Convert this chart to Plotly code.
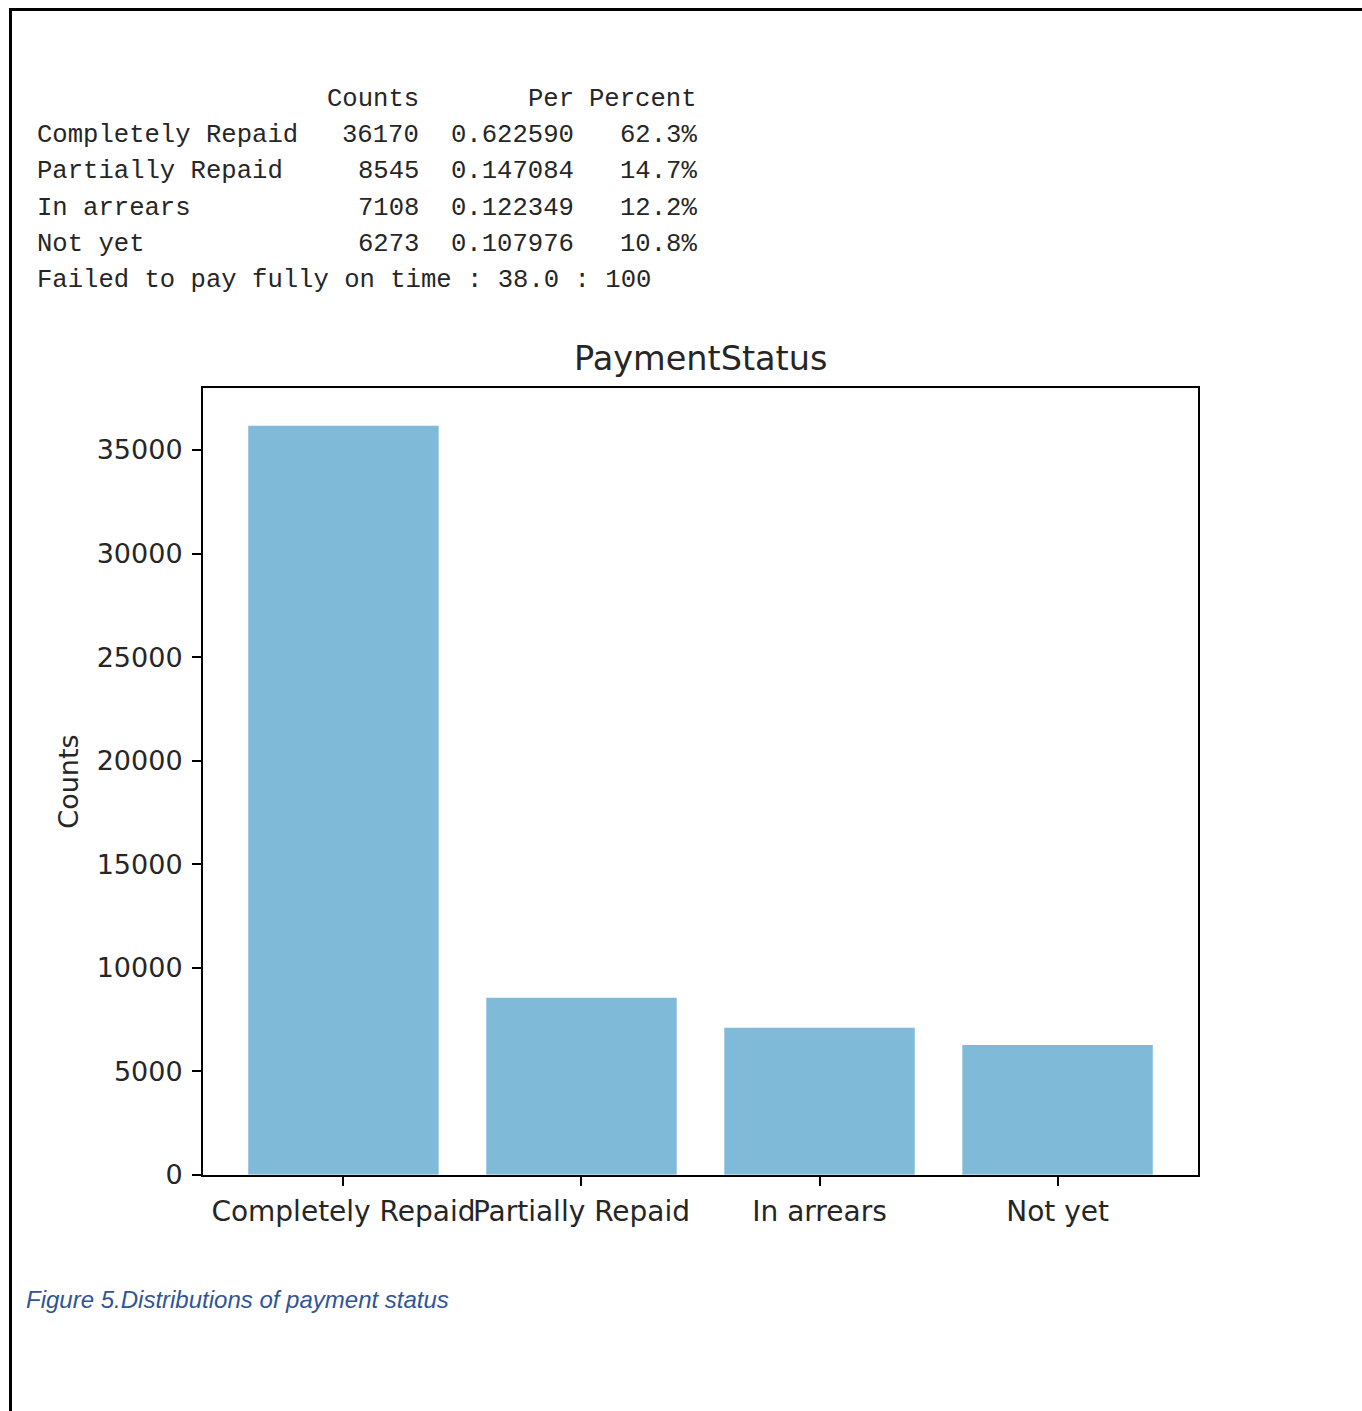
import plotly.graph_objects as go

# Payment status counts
categories = ["Completely Repaid", "Partially Repaid", "In arrears", "Not yet"]
counts = [36170, 8545, 7108, 6273]
y_ticks = [0, 5000, 10000, 15000, 20000, 25000, 30000, 35000]
summary_line = "Failed to pay fully on time : 38.0 : 100"

total = sum(counts)
shares = [c / total for c in counts]

W, H = 1362, 1427
H_VIEW = 1411


def px_x(x):
    return x / W


def px_y(y):
    return 1 - y / H_VIEW


BAR_COLOR = "#7fbad9"
AXIS_FONT = "DejaVu Sans"
MONO_FONT = "Liberation Mono"
TEXT_COLOR = "#262626"

fig = go.Figure()
fig.add_trace(go.Bar(
    x=list(range(len(categories))),
    y=counts,
    width=0.8,
    marker=dict(color=BAR_COLOR, line=dict(width=0)),
    hoverinfo="x+y",
))

fig.update_layout(
    width=W,
    height=H,
    margin=dict(l=0, r=0, t=0, b=0),
    paper_bgcolor="white",
    plot_bgcolor="white",
    showlegend=False,
    xaxis=dict(
        domain=[px_x(203), px_x(1198)],
        range=[-0.59, 3.59],
        tickmode="array",
        tickvals=list(range(len(categories))),
        ticktext=categories,
        tickangle=0,
        ticks="outside",
        ticklen=9,
        tickwidth=2,
        tickcolor="black",
        ticklabelstandoff=2,
        showline=True,
        linecolor="black",
        linewidth=2,
        mirror=True,
        showgrid=False,
        zeroline=False,
        tickfont=dict(family=AXIS_FONT, size=28, color=TEXT_COLOR),
    ),
    yaxis=dict(
        domain=[px_y(1174), px_y(388)],
        range=[0, 37978.5],
        tickmode="array",
        tickvals=y_ticks,
        ticktext=[str(v) for v in y_ticks],
        ticks="outside",
        ticklen=9,
        tickwidth=2,
        tickcolor="black",
        ticklabelstandoff=4,
        showline=True,
        linecolor="black",
        linewidth=2,
        mirror=True,
        showgrid=False,
        zeroline=False,
        tickfont=dict(family=AXIS_FONT, size=27, color=TEXT_COLOR),
        title=dict(text="Counts", font=dict(family=AXIS_FONT, size=27, color=TEXT_COLOR),
                   standoff=10),
    ),
)

annotations = []

# Chart title
annotations.append(dict(
    text="PaymentStatus", x=px_x(700.5), y=px_y(358), xref="paper", yref="paper",
    xanchor="center", yanchor="middle", showarrow=False,
    font=dict(family=AXIS_FONT, size=33.5, color=TEXT_COLOR),
))

# Printed summary table
mono = dict(family=MONO_FONT, size=25.6, color=TEXT_COLOR)
row_y = [99, 135, 171, 208, 244]
col_right = [421, 576, 699]
headers = ["Counts", "Per", "Percent"]
for text, xr in zip(headers, col_right):
    annotations.append(dict(
        text=text, x=px_x(xr), y=px_y(row_y[0]), xref="paper", yref="paper",
        xanchor="right", yanchor="middle", showarrow=False, font=mono,
    ))
for i, (cat, c, s) in enumerate(zip(categories, counts, shares)):
    y = px_y(row_y[i + 1])
    annotations.append(dict(
        text=cat, x=px_x(35), y=y, xref="paper", yref="paper",
        xanchor="left", yanchor="middle", showarrow=False, font=mono,
    ))
    for text, xr in zip([str(c), f"{s:.6f}", f"{s * 100:.1f}%"], col_right):
        annotations.append(dict(
            text=text, x=px_x(xr), y=y, xref="paper", yref="paper",
            xanchor="right", yanchor="middle", showarrow=False, font=mono,
        ))
annotations.append(dict(
    text=summary_line.replace(" ", "\u00a0"), x=px_x(35), y=px_y(280),
    xref="paper", yref="paper", xanchor="left", yanchor="middle",
    showarrow=False, font=mono,
))

# Figure caption
annotations.append(dict(
    text="<i>Figure 5.Distributions of payment status</i>", x=px_x(24), y=px_y(1299),
    xref="paper", yref="paper", xanchor="left", yanchor="middle", showarrow=False,
    font=dict(family="Liberation Sans", size=24, color="#2f5597"),
))

fig.update_layout(annotations=annotations)

# Page frame lines along the top and left edges
fig.add_shape(type="line", xref="paper", yref="paper",
              x0=px_x(9), x1=1, y0=px_y(9.5), y1=px_y(9.5),
              line=dict(color="black", width=3))
fig.add_shape(type="line", xref="paper", yref="paper",
              x0=px_x(10.5), x1=px_x(10.5), y0=px_y(8), y1=0,
              line=dict(color="black", width=3))

fig.write_html("out.html")
